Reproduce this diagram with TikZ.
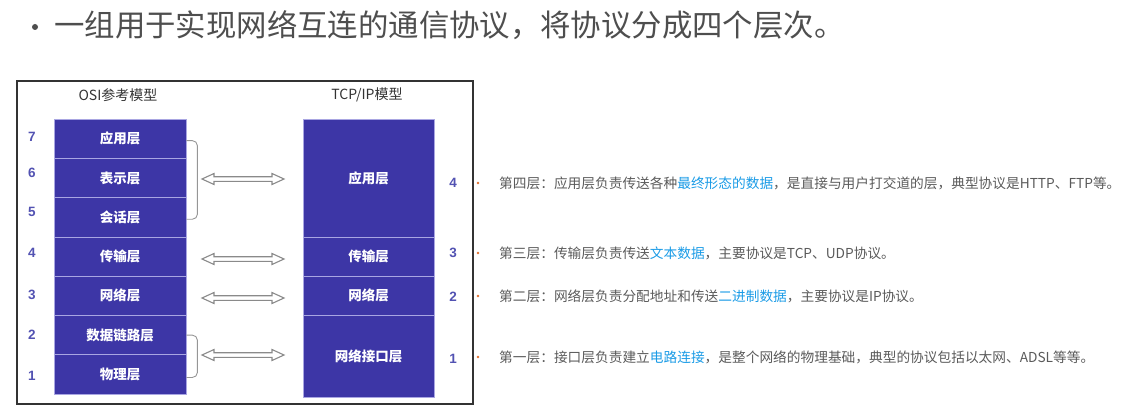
\documentclass[tikz,border=0pt]{standalone}
\usepackage{fontspec}
\setmainfont{Liberation Sans}
\newfontfamily\cjk{Noto Sans CJK SC}
\usetikzlibrary{calc}
\definecolor{boxblue}{HTML}{3D36A6}
\definecolor{sepline}{HTML}{A9A6E2}
\definecolor{numblue}{HTML}{5252B2}
\definecolor{txtgray}{HTML}{5A5A5A}
\definecolor{titlegray}{HTML}{4E4E4E}
\definecolor{hlblue}{HTML}{1A9BE6}
\definecolor{dotorange}{HTML}{E0702E}
\definecolor{arrgray}{HTML}{8A8A8A}
\tikzset{
  layer/.style={draw=sepline, line width=0.8pt, fill=boxblue, text=white, inner sep=0pt,
    font=\cjk\bfseries\fontsize{13.5}{14}\selectfont},
  osilayer/.style={layer, minimum width=132pt, minimum height=39.3pt},
  tcplayer/.style={layer, minimum width=131pt},
  num/.style={text=numblue, font=\bfseries\fontsize{13.5}{14}\selectfont, inner sep=0pt},
  colhead/.style={text=black!80, font=\cjk\fontsize{14}{15}\selectfont, inner sep=0pt},
  hollowarrow/.pic={
    \draw[draw=arrgray, fill=white, line width=1.1pt, line join=miter]
      (-41,0) -- (-29,-5.5) -- (-29,-2.3) -- (29,-2.3) -- (29,-5.5) -- (41,0)
      -- (29,5.5) -- (29,2.3) -- (-29,2.3) -- (-29,5.5) -- cycle;
  },
  bracket/.style={draw=arrgray!90, line width=0.9pt, rounded corners=5pt},
  desc/.style={text=txtgray, font=\cjk\fontsize{13.7}{14}\selectfont, inner sep=0pt, anchor=west},
  dot/.style={circle, fill=dotorange, inner sep=0pt, minimum size=2.8pt},
}
\newcommand{\hl}[1]{\textcolor{hlblue}{#1}}
\begin{document}
\begin{tikzpicture}[x=1pt,y=-1pt]
\useasboundingbox (0,0) rectangle (1127,420);
% title
\node[circle, fill=titlegray, inner sep=0pt, minimum size=6pt] (tdot) at (35,27) {};
\node[text=titlegray, font=\cjk\fontsize{30.4}{32}\selectfont, inner sep=0pt, anchor=west] (title) at (54,25) {一组用于实现网络互连的通信协议，将协议分成四个层次。};
% frame
\node[draw=black!80, line width=1.1pt, minimum width=456pt, minimum height=323pt, inner sep=0pt] (frame) at (245,242.5) {};
% column heads
\node[colhead] (osihead) at (118,95) {OSI参考模型};
\node[colhead] (tcphead) at (367,95) {TCP/IP模型};
% OSI layers
\node[osilayer] (o7) at (120,138.65) {应用层};
\node[osilayer] (o6) at (120,177.95) {表示层};
\node[osilayer] (o5) at (120,217.25) {会话层};
\node[osilayer] (o4) at (120,256.55) {传输层};
\node[osilayer] (o3) at (120,295.85) {网络层};
\node[osilayer] (o2) at (120,335.15) {数据链路层};
\node[osilayer] (o1) at (120,374.45) {物理层};
% TCP layers
\node[tcplayer, minimum height=117.9pt] (t4) at (368.5,177.95) {应用层};
\node[tcplayer, minimum height=39.3pt] (t3) at (368.5,256.55) {传输层};
\node[tcplayer, minimum height=39.3pt] (t2) at (368.5,295.85) {网络层};
\node[tcplayer, minimum height=81.5pt] (t1) at (368.5,356.25) {网络接口层};
% left numbers
\node[num] (n7) at (32,137) {7};
\node[num] (n6) at (32,173) {6};
\node[num] (n5) at (32,212) {5};
\node[num] (n4) at (32,253) {4};
\node[num] (n3) at (32,295) {3};
\node[num] (n2) at (32,335) {2};
\node[num] (n1) at (32,376) {1};
% right numbers
\node[num] (m4) at (453,183) {4};
\node[num] (m3) at (453,253) {3};
\node[num] (m2) at (453,297) {2};
\node[num] (m1) at (453,359) {1};
% brackets
\draw[bracket] ($(o7.east)+(0,2)$) -- ++(11,0) |- ($(o5.east)+(0,2)$);
\draw[bracket] (o2.east) -- ++(11,0) |- ($(o1.east)+(0,3)$);
% arrows
\pic at (243,179) {hollowarrow};
\pic at (243,259) {hollowarrow};
\pic at (243,298) {hollowarrow};
\pic at (243,355) {hollowarrow};
% descriptions
\node[dot] (b4) at (478,183) {};
\node[dot] (b3) at (478,253) {};
\node[dot] (b2) at (478,296) {};
\node[dot] (b1) at (478,357) {};
\node[desc] (d4) at (499,183) {第四层：应用层负责传送各种\hl{最终形态的数据}，是直接与用户打交道的层，典型协议是HTTP、FTP等。};
\node[desc] (d3) at (499,253) {第三层：传输层负责传送\hl{文本数据}，主要协议是TCP、UDP协议。};
\node[desc] (d2) at (499,296) {第二层：网络层负责分配地址和传送\hl{二进制数据}，主要协议是IP协议。};
\node[desc] (d1) at (499,357) {第一层：接口层负责建立\hl{电路连接}，是整个网络的物理基础，典型的协议包括以太网、ADSL等等。};
\end{tikzpicture}
\end{document}
